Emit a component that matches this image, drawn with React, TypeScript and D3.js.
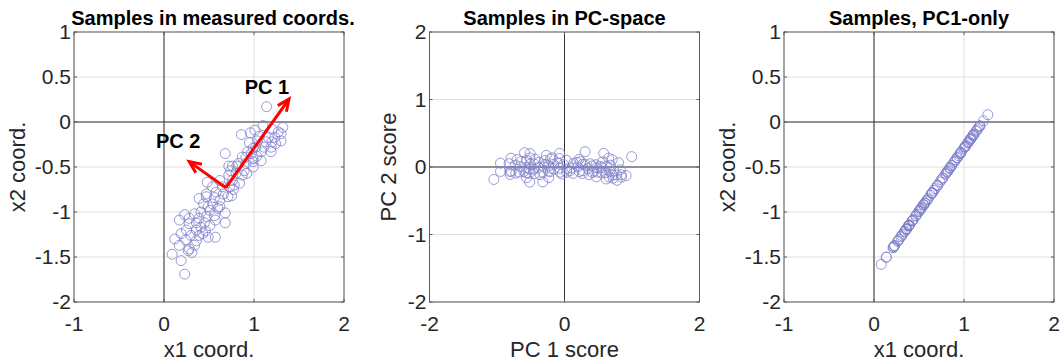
import React from 'react'
import * as d3 from 'd3'

const x1Coord = [
  1.14, 1.10, 1.32, 1.20, 1.01, 0.86, 0.96, 1.27, 1.16, 1.23, 1.20, 1.30, 0.95, 1.04, 1.11,
  1.19, 0.99, 1.08, 0.93, 1.03, 1.19, 1.08, 0.68, 0.99, 0.91, 0.99, 0.89, 0.72, 0.76, 0.81,
  0.74, 0.80, 0.87, 0.72, 0.76, 0.84, 0.48, 0.73, 0.65, 0.77, 0.58, 0.66, 0.75, 0.71, 0.47,
  0.56, 0.62, 0.54, 0.44, 0.68, 0.60, 0.51, 0.41, 0.34, 0.23, 0.56, 0.47, 0.39, 0.28, 0.17,
  0.57, 0.45, 0.68, 0.28, 0.36, 0.41, 0.51, 0.46, 0.43, 0.49, 0.57, 0.39, 0.36, 0.24, 0.12,
  0.34, 0.17, 0.28, 0.31, 0.27, 0.09, 0.19, 0.23, 0.83, 0.91, 0.97, 1.13, 1.06, 1.02, 0.87,
  0.62, 0.54, 0.39, 0.49, 0.62, 0.36, 0.25, 0.30, 0.19, 0.47, 0.78, 0.92, 0.99, 1.24, 1.30,
]
const x2Coord = [
  0.17, -0.04, -0.06, -0.08, -0.09, -0.14, -0.12, -0.11, -0.17, -0.17, -0.22, -0.21, -0.23, -0.21, -0.28,
  -0.28, -0.29, -0.33, -0.33, -0.38, -0.33, -0.43, -0.35, -0.44, -0.46, -0.50, -0.54, -0.49, -0.49, -0.49,
  -0.54, -0.57, -0.59, -0.59, -0.65, -0.68, -0.67, -0.72, -0.72, -0.75, -0.78, -0.80, -0.82, -0.83, -0.83,
  -0.84, -0.87, -0.91, -0.91, -1.01, -0.96, -0.98, -1.00, -1.02, -1.03, -1.04, -1.05, -1.07, -1.07, -1.09,
  -1.09, -1.12, -1.12, -1.13, -1.12, -1.17, -1.15, -1.21, -1.24, -1.28, -1.28, -1.26, -1.32, -1.31, -1.30,
  -1.37, -1.37, -1.41, -1.45, -1.43, -1.47, -1.54, -1.69, -0.46, -0.39, -0.35, -0.22, -0.16, -0.28, -0.39,
  -0.65, -0.72, -0.85, -0.94, -0.94, -1.20, -1.20, -1.26, -1.24, -0.80, -0.70, -0.57, -0.41, -0.24, -0.13,
]

// PCA result read from the arrows
const sampleMean = [0.687, -0.73]
const pcLoadings = [
  [0.58, 0.814],
  [-0.814, 0.58],
]
const arrowLengths = [1.21, 0.5]
const arrowLabels = ['PC 1', 'PC 2']

const measuredTicksX = [-1, 0, 1, 2]
const measuredTicksY = [-2, -1.5, -1, -0.5, 0, 0.5, 1]
const scoreTicksX = [-2, 0, 2]
const scoreTicksY = [-2, -1, 0, 1, 2]

const FONT = "'Liberation Sans', Arial, Helvetica, sans-serif"
const MARKER = '#7f7fcc'
const TOP = 32
const SIZE = 270

type Pt = { x: number; y: number }

const scores = x1Coord.map((x, i) => {
  const dx = x - sampleMean[0]
  const dy = x2Coord[i] - sampleMean[1]
  return [
    dx * pcLoadings[0][0] + dy * pcLoadings[0][1],
    dx * pcLoadings[1][0] + dy * pcLoadings[1][1],
  ]
})

const measuredPts: Pt[] = x1Coord.map((x, i) => ({ x, y: x2Coord[i] }))
const scorePts: Pt[] = scores.map((s) => ({ x: s[0], y: s[1] }))
const pc1Pts: Pt[] = scores.map((s) => ({
  x: sampleMean[0] + s[0] * pcLoadings[0][0],
  y: sampleMean[1] + s[0] * pcLoadings[0][1],
}))

function Arrow({ x0, y0, x1, y1, label, lx, ly }: any) {
  const ang = Math.atan2(y1 - y0, x1 - x0)
  const head = 13
  const spread = 0.42
  const h1 = [x1 - head * Math.cos(ang - spread), y1 - head * Math.sin(ang - spread)]
  const h2 = [x1 - head * Math.cos(ang + spread), y1 - head * Math.sin(ang + spread)]
  return (
    <g>
      <line x1={x0} y1={y0} x2={x1} y2={y1} stroke="#ff0000" strokeWidth={3} />
      <polyline
        points={`${h1[0]},${h1[1]} ${x1},${y1} ${h2[0]},${h2[1]}`}
        fill="none"
        stroke="#ff0000"
        strokeWidth={3}
        strokeLinejoin="miter"
      />
      <text x={x1 + lx} y={y1 + ly} textAnchor="middle" fontFamily={FONT} fontWeight="bold" fontSize={20} fill="#000">
        {label}
      </text>
    </g>
  )
}

function Panel({ left, xDomain, yDomain, xTicks, yTicks, title, titleShift, xLabel, yLabel, yLabelOffset, points, arrows }: any) {
  const x = d3.scaleLinear().domain(xDomain).range([left, left + SIZE])
  const y = d3.scaleLinear().domain(yDomain).range([TOP + SIZE, TOP])
  const right = left + SIZE
  const bottom = TOP + SIZE
  const cx = left + SIZE / 2
  const cy = TOP + SIZE / 2
  return (
    <g>
      {xTicks.map((t: number) => (
        <line key={'gx' + t} x1={x(t)} x2={x(t)} y1={TOP} y2={bottom} stroke="#dedede" />
      ))}
      {yTicks.map((t: number) => (
        <line key={'gy' + t} x1={left} x2={right} y1={y(t)} y2={y(t)} stroke="#dedede" />
      ))}
      <line x1={x(0)} x2={x(0)} y1={TOP} y2={bottom} stroke="#333" strokeWidth={1} />
      <line x1={left} x2={right} y1={y(0)} y2={y(0)} stroke="#333" strokeWidth={1} />
      {points.map((p: Pt, i: number) => (
        <circle key={i} cx={x(p.x)} cy={y(p.y)} r={5} fill="none" stroke={MARKER} strokeWidth={0.8} />
      ))}
      {arrows &&
        arrows.map((a: any, i: number) => (
          <Arrow
            key={i}
            x0={x(sampleMean[0])}
            y0={y(sampleMean[1])}
            x1={x(sampleMean[0] + a.len * pcLoadings[i][0])}
            y1={y(sampleMean[1] + a.len * pcLoadings[i][1])}
            label={a.label}
            lx={a.lx}
            ly={a.ly}
          />
        ))}
      <rect x={left} y={TOP} width={SIZE} height={SIZE} fill="none" stroke="#5a5a5a" strokeWidth={1} />
      {xTicks.map((t: number) => (
        <g key={'tx' + t}>
          <line x1={x(t)} x2={x(t)} y1={bottom} y2={bottom - 3} stroke="#5a5a5a" />
          <line x1={x(t)} x2={x(t)} y1={TOP} y2={TOP + 3} stroke="#5a5a5a" />
          <text x={x(t)} y={bottom + 29} textAnchor="middle" fontFamily={FONT} fontSize={21} fill="#262626">
            {String(t)}
          </text>
        </g>
      ))}
      {yTicks.map((t: number) => (
        <g key={'ty' + t}>
          <line x1={left} x2={left + 3} y1={y(t)} y2={y(t)} stroke="#5a5a5a" />
          <line x1={right} x2={right - 3} y1={y(t)} y2={y(t)} stroke="#5a5a5a" />
          <text x={left - 3} y={y(t) + 7} textAnchor="end" fontFamily={FONT} fontSize={21} fill="#262626">
            {String(t)}
          </text>
        </g>
      ))}
      <text x={cx + (titleShift || 0)} y={25} textAnchor="middle" fontFamily={FONT} fontWeight="bold" fontSize={20} fill="#000">
        {title}
      </text>
      <text x={cx} y={357} textAnchor="middle" fontFamily={FONT} fontSize={22} fill="#262626">
        {xLabel}
      </text>
      <text
        transform={`translate(${left - yLabelOffset},${cy}) rotate(-90)`}
        textAnchor="middle"
        fontFamily={FONT}
        fontSize={22}
        fill="#262626"
      >
        {yLabel}
      </text>
    </g>
  )
}

export default function App() {
  const arrows = [
    { len: arrowLengths[0], label: arrowLabels[0], lx: -22, ly: -5 },
    { len: arrowLengths[1], label: arrowLabels[1], lx: -11, ly: -14 },
  ]
  return (
    <svg width={1061} height={363} style={{ position: 'absolute', left: 0, top: 0, background: '#fff' }}>
      <rect width={1061} height={363} fill="#fff" />
      <Panel
        left={74}
        xDomain={[-1, 2]}
        yDomain={[-2, 1]}
        xTicks={measuredTicksX}
        yTicks={measuredTicksY}
        title="Samples in measured coords."
        titleShift={4}
        xLabel="x1 coord."
        yLabel="x2 coord."
        yLabelOffset={49}
        points={measuredPts}
        arrows={arrows}
      />
      <Panel
        left={429.5}
        xDomain={[-2, 2]}
        yDomain={[-2, 2]}
        xTicks={scoreTicksX}
        yTicks={scoreTicksY}
        title="Samples in PC-space"
        xLabel="PC 1 score"
        yLabel="PC 2 score"
        yLabelOffset={34}
        points={scorePts}
      />
      <Panel
        left={784}
        xDomain={[-1, 2]}
        yDomain={[-2, 1]}
        xTicks={measuredTicksX}
        yTicks={measuredTicksY}
        title="Samples, PC1-only"
        xLabel="x1 coord."
        yLabel="x2 coord."
        yLabelOffset={49}
        points={pc1Pts}
      />
    </svg>
  )
}
